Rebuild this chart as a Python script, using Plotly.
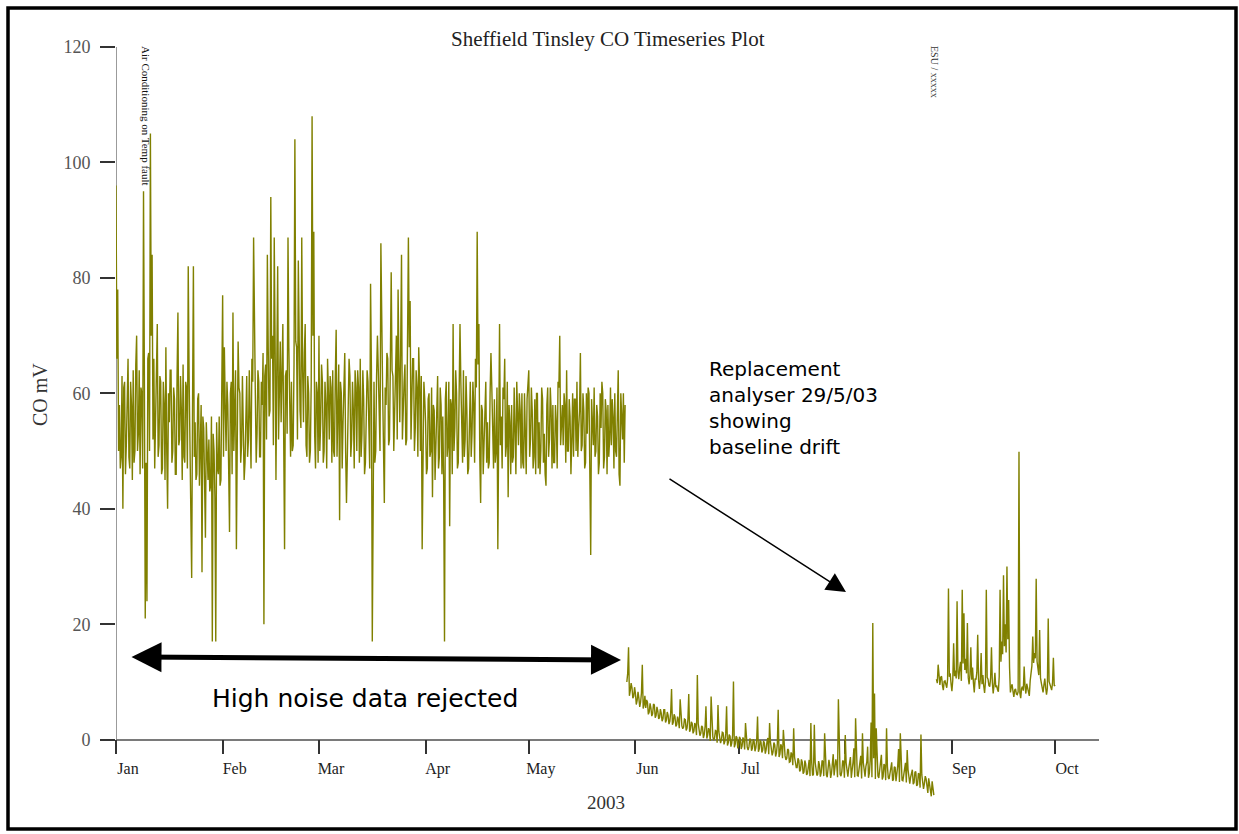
import pandas as pd
import plotly.graph_objects as go

# ---------------------------------------------------------------------------
# Sheffield Tinsley CO analyser output (mV), 6-hourly readings
# (00:00, 06:00, 12:00, 18:00), one row per two days
# ---------------------------------------------------------------------------

# Original analyser, 1 Jan 2003 00:00 onwards
co_jan = [96, 66, 78, 50, 58, 47, 49, 63,
          40, 61, 62, 46, 51, 64, 66, 49,
          47, 62, 58, 45, 64, 48, 50, 65,
          70, 50, 53, 64, 46, 61, 60, 47,
          95, 63, 21, 48, 24, 66, 67, 50,
          105, 70, 84, 52, 66, 47, 55, 65,
          72, 49, 51, 63, 62, 46, 47, 62,
          58, 45, 68, 50, 40, 60, 55, 64,
          64, 48, 50, 61, 59, 46, 46, 63,
          74, 51, 52, 63, 57, 45, 65, 49,
          48, 62, 61, 47, 82, 63, 52, 45,
          28, 58, 82, 49, 55, 45, 46, 59,
          60, 44, 50, 58, 29, 56, 54, 44,
          35, 55, 49, 45, 52, 43, 44, 56,
          17, 53, 50, 42, 17, 55, 47, 46,
          56, 44, 45, 58]
co_feb = [77, 49, 68, 58, 50, 62, 58, 47,
          36, 60, 62, 46, 74, 50, 55, 64,
          33, 47, 69, 61, 60, 48, 51, 63,
          56, 45, 48, 60, 63, 49, 52, 64,
          58, 47, 66, 62, 87, 65, 60, 48,
          53, 64, 62, 49, 49, 62, 58, 67,
          20, 63, 65, 52, 84, 68, 56, 57,
          94, 66, 70, 51, 87, 69, 45, 65,
          82, 52, 60, 69, 55, 66, 72, 52,
          33, 63, 64, 53, 87, 68, 58, 49,
          62, 50, 51, 65, 104, 69, 68, 52,
          83, 66, 57, 54, 87, 64, 55, 67,
          72, 51, 49, 63, 60, 48, 50, 62,
          108, 70, 88, 53, 47, 62, 60, 48]
co_mar = [70, 50, 55, 65, 62, 48, 50, 62,
          58, 47, 66, 60, 52, 63, 61, 48,
          64, 50, 49, 63, 71, 49, 56, 65,
          38, 62, 60, 47, 55, 65, 67, 50,
          41, 49, 58, 66, 63, 49, 52, 62,
          57, 47, 64, 61, 50, 64, 61, 48,
          66, 49, 53, 64, 59, 46, 48, 61,
          64, 62, 55, 47, 79, 64, 17, 49,
          62, 48, 50, 63, 70, 64, 56, 50,
          86, 66, 61, 51, 41, 61, 58, 67,
          66, 51, 52, 65, 81, 64, 63, 50,
          57, 67, 70, 52, 78, 65, 55, 68,
          84, 52, 60, 62, 65, 51, 52, 66,
          87, 68, 76, 52, 58, 66, 66, 50,
          54, 64, 61, 49, 68, 62, 50, 63,
          33, 49, 62, 59]
co_apr = [55, 46, 47, 59, 60, 49, 50, 61,
          42, 58, 57, 45, 52, 60, 63, 47,
          49, 61, 58, 46, 56, 45, 17, 59,
          62, 49, 51, 62, 37, 59, 58, 46,
          72, 50, 54, 64, 60, 47, 48, 60,
          72, 62, 56, 48, 64, 49, 52, 63,
          57, 46, 47, 59, 62, 49, 53, 62,
          58, 48, 66, 61, 88, 65, 72, 49,
          41, 58, 57, 46, 52, 61, 62, 48,
          55, 47, 48, 60, 67, 61, 54, 47,
          59, 48, 50, 61, 33, 60, 72, 51,
          56, 47, 61, 59, 66, 49, 51, 62,
          42, 58, 55, 46, 58, 48, 49, 61,
          55, 46, 62, 58, 51, 60, 57, 47,
          60, 48, 47, 60, 54, 46, 59, 61]
co_may = [64, 49, 52, 61, 57, 47, 49, 59,
          46, 60, 60, 47, 55, 46, 50, 61,
          59, 48, 53, 46, 44, 58, 61, 49,
          52, 61, 57, 47, 58, 48, 48, 58,
          55, 47, 62, 61, 70, 51, 54, 58,
          51, 60, 58, 48, 64, 50, 50, 59,
          56, 46, 52, 60, 49, 59, 59, 50,
          62, 49, 54, 57, 67, 50, 51, 60,
          57, 47, 48, 60, 53, 61, 60, 46,
          32, 59, 55, 51, 61, 49, 50, 58,
          56, 46, 48, 60, 54, 62, 60, 47,
          49, 59, 57, 46, 58, 49, 52, 61,
          51, 59, 56, 47, 60, 50, 49, 58,
          64, 46, 44, 60, 56, 52, 60, 48,
          58]

# Replacement analyser, 29 May 2003 12:00 onwards
new_may = [10, 11.5,
           16, 7.6, 8.5, 9.8, 9, 7.2, 7.5, 9.1]
new_jun = [8, 6.1, 6.8, 8.3, 7.2, 5.7, 6.5, 8.1,
           13, 5.4, 6, 7.6, 5.5, 6.9, 6.5, 4.4,
           4.8, 6.3, 5.5, 4.1, 4.5, 6.2, 6, 3.8,
           4.2, 5.7, 5, 3.6, 3.8, 5.3, 4.6, 3.2,
           3.6, 5.2, 5.2, 3, 3.4, 4.8, 4.2, 2.7,
           3.2, 4.7, 8.8, 2.6, 3, 4.4, 4, 2.3,
           2.6, 4, 3.4, 2, 7, 3.7, 2.4, 1.9,
           2.2, 3.6, 3.5, 1.6, 2, 3.5, 7.9, 1.4,
           1.8, 3.1, 2.8, 1.1, 1.5, 2.9, 2.5, 0.8,
           11.2, 2.8, 1.3, 0.7, 1.1, 2.4, 2.2, 0.3,
           0.9, 2.3, 5.8, 0.2, 0.8, 2, 1.6, -0.2,
           7.5, 1.8, 0.5, -0.1, 0.3, 1.6, 1.5, -0.5,
           6, 1.4, 0.1, -0.6, 0, 1.3, 1.2, -0.8,
           -0.3, 1.1, 5.8, -1, -0.5, 0.9, 0.6, -1.2,
           -0.6, 0.8, 10.1, -1.3, -0.8, 0.6, 0.4, -1.5]
new_jul = [-1, 0.5, 0.2, -1.6, -1.1, 0.4, 0, -1.7,
           2.9, 0.3, -1.3, -1.8, -1.2, 0.2, 0, -1.9,
           -1.5, 0.1, -0.3, -2, -1.4, 0, 4, -2.1,
           -1.6, -0.1, -0.4, -2.2, -1.8, -0.2, -0.6, -2.4,
           -1.7, -0.3, 0.3, -2.5, 2.9, -0.4, -2, -2.7,
           -2.1, -0.5, -0.9, -2.9, -2.3, -0.7, 5.2, -3,
           -2.5, -0.8, -1.2, -3.2, 1.7, -1.3, -2.8, -3.5,
           -3.2, -1.6, -1.8, -3.9, -3.8, -2.2, -2.6, -4.4,
           2, -3, -4.4, -4.8, -4.8, -3.2, -3.6, -5.5,
           -5.2, -3.4, -3.9, -5.9, -5.6, -3.6, -4.2, -6.1,
           -5.9, -3.8, -3.5, -6.3, 2.9, -4, -6.2, -6,
           2.6, -3.9, -5.4, -6.2, -6, -3.7, -4.4, -6.4,
           -5.7, -3.6, -3.8, -6.3, 1.1, -3.9, -6.1, -6.5,
           -5.4, -3.5, -4.5, -6.6, -5.8, -3.8, -2.5, -6.2,
           -5.2, -3.4, -4.1, -6.5, 7, -3.9, -6, -6.3,
           -5.5, -3.6, -3.8, -6.6]
new_aug = [0.8, -4, -6.1, -6.4, -5, -3.7, -3, -6.6,
           -5.6, -3.9, -1.5, -6.5, 3.7, -4.1, -6.2, -6.3,
           -5.3, -3.8, -2.8, -6.7, 1.1, -4, -5.9, -6.4,
           -4.6, -3.9, -1.2, -6.6, -5.8, -3.6, 3, -6.5,
           20.2, -3.2, 8, -6.8, 2, -4.1, -6.3, -6.6,
           -5.2, -4.3, -2.6, -6.9, -6.4, -4.2, -4.5, -7,
           2, -4.6, -6.6, -6.8, -5.7, -4.4, -3.9, -7.1,
           -6.9, -4.7, -4.8, -7.2, -6.2, -4.5, -1.6, -7.3,
           1.1, -4.9, -7, -7.1, -6, -5.1, -4, -7.4,
           -1.8, -5.2, -7.3, -7.6, -6.5, -5.4, -5.2, -7.7,
           -7.4, -5.6, -5.5, -8, -7.8, -5.8, -6, -8.3,
           0.9, -6.1, -8.2, -8.5, -7.6, -6.3, -6.8, -8.8,
           -9.2, -6.7, -7.9, -9.2, -9.8, -7.2, -8.5, -9.6]

# Analyser back on line, 27 Aug 2003 12:00 onwards
late_aug = [10.5, 9.8,
            13, 10.2, 9.5, 10.8, 11, 9.4, 8.6, 10.1,
            10.2, 9.6, 9, 10.5, 26.2, 10.9, 11.5, 9.7]
late_sep = [8.4, 10.3, 16.7, 11, 12, 10.6, 24, 11.8,
            10.5, 12.4, 13.5, 10.2, 26, 13.2, 21.9, 12.1,
            14, 11.5, 20.2, 10.8, 9.6, 11.3, 16, 10.4,
            12.5, 9.9, 8.2, 10.6, 10.4, 11.7, 18.2, 10.3,
            8.8, 10.5, 15, 9.6, 11.2, 9.3, 8.1, 10,
            26, 10.8, 10.5, 9.4, 9.2, 10.7, 16, 9.9,
            8, 9.5, 11.6, 9.1, 9.4, 8.7, 8.3, 10.9,
            26, 13.5, 17, 14.8, 28.5, 16.2, 20, 15.1,
            30, 17.4, 24.2, 12.6, 8.2, 9.1, 9.6, 8.4,
            7.4, 8.6, 8.8, 7.9, 7.8, 8.3, 49.9, 8.1,
            7.2, 8.9, 9.2, 8.5, 12.7, 9.3, 8, 9.7,
            9.1, 8.4, 7.6, 10.2, 11.5, 12.8, 17.9, 13.3,
            15, 14.1, 27.9, 13.6, 12.4, 11.2, 19, 10.7,
            9.8, 9.2, 8.2, 9.5, 10.6, 9, 7.8, 8.9,
            21, 10.1, 9.4, 8.7, 8.6, 9.8, 14.2, 9.3,
            9.5]

segments = [
    ("2003-01-01 00:00", co_jan + co_feb + co_mar + co_apr + co_may),
    ("2003-05-29 12:00", new_may + new_jun + new_jul + new_aug),
    ("2003-08-27 12:00", late_aug + late_sep),
]

# month ticks; the August label sits under the drifting trace and is left blank
month_starts = ["2003-01-01", "2003-02-01", "2003-03-01", "2003-04-01",
                "2003-05-01", "2003-06-01", "2003-07-01", "2003-08-01",
                "2003-09-01", "2003-10-01"]
month_labels = ["Jan", "Feb", "Mar", "Apr", "May", "Jun", "Jul", "",
                "Sep", "Oct"]
y_ticks = [0, 20, 40, 60, 80, 100, 120]
y_range = [-12, 120]
x_range = ["2003-01-01 00:00", "2003-10-13 18:15"]

# ---------------------------------------------------------------------------
# Page geometry
# ---------------------------------------------------------------------------
FIG_W, FIG_H = 1239, 834
M_L, M_R, M_T, M_B = 116, 140, 47, 25
PW = FIG_W - M_L - M_R
PH = FIG_H - M_T - M_B


def px(xp):
    """Page pixel column -> paper fraction."""
    return (xp - M_L) / PW


def py(yp):
    """Page pixel row -> paper fraction."""
    return (FIG_H - M_B - yp) / PH


SERIF = "Liberation Serif, Times New Roman, serif"
SANS = "DejaVu Sans, Verdana, sans-serif"
OLIVE = "#808000"

fig = go.Figure()
for start, vals in segments:
    times = pd.date_range(start, periods=len(vals), freq="6h")
    fig.add_trace(go.Scatter(
        x=times, y=vals, mode="lines",
        line=dict(color=OLIVE, width=1.4),
        showlegend=False, hoverinfo="skip",
    ))

fig.update_layout(
    width=FIG_W, height=FIG_H,
    margin=dict(l=M_L, r=M_R, t=M_T, b=M_B),
    paper_bgcolor="white", plot_bgcolor="white",
    showlegend=False,
    xaxis=dict(
        type="date", range=x_range,
        anchor="free",
        position=(0 - y_range[0]) / (y_range[1] - y_range[0]),
        showline=True, linecolor="#7a7a7a", linewidth=1.5,
        ticks="outside", ticklen=14, tickwidth=1.5, tickcolor="#333",
        tickvals=month_starts, ticktext=month_labels,
        ticklabelshift=12,
        tickfont=dict(family=SERIF, size=16, color="#222"),
        showgrid=False, zeroline=False, layer="below traces",
    ),
    yaxis=dict(
        range=y_range, tickvals=y_ticks,
        ticks="outside", ticklen=15, tickwidth=1.5, tickcolor="#333",
        tickfont=dict(family=SERIF, size=18, color="#555"),
        ticklabelstandoff=6,
        showline=False, showgrid=False, zeroline=False,
    ),
    shapes=[
        # vertical axis line from 0 to 120
        dict(type="line", xref="x", yref="y",
             x0=month_starts[0], x1=month_starts[0], y0=0, y1=y_ticks[-1],
             line=dict(color="#7a7a7a", width=1.5), layer="below"),
        # page frame
        dict(type="rect", xref="paper", yref="paper",
             x0=px(8), x1=px(1236), y0=py(829), y1=py(8),
             line=dict(color="black", width=3.5)),
    ],
)

annotations = [
    dict(text="Sheffield Tinsley CO Timeseries Plot",
         x=px(608), y=py(39), font=dict(family=SERIF, size=21, color="#222")),
    dict(text="CO mV", x=px(40), y=py(395), textangle=-90,
         font=dict(family=SERIF, size=20, color="#333")),
    dict(text="2003", x=px(606), y=py(802),
         font=dict(family=SERIF, size=19, color="#333")),
    dict(text="Air Conditioning on Temp fault", x=px(146), y=py(116),
         textangle=90, font=dict(family=SERIF, size=11, color="#111")),
    dict(text="ESU / xxxxx", x=px(934), y=py(72), textangle=90,
         font=dict(family=SERIF, size=10, color="#333")),
    dict(text="Replacement<br>analyser 29/5/03<br>showing<br>baseline drift",
         x=px(707), y=py(408), xanchor="left", align="left",
         font=dict(family=SANS, size=20, color="black")),
    dict(text="High noise data rejected", x=px(365), y=py(698),
         font=dict(family=SANS, size=25, color="black")),
    # arrow pointing at the drifting baseline
    dict(text="", x=px(846), y=py(592), ax=668 - 846, ay=478 - 592,
         showarrow=True, arrowhead=2, arrowsize=2.6, arrowwidth=1.5,
         arrowcolor="black"),
    # double-headed arrow spanning the rejected period
    dict(text="", x=px(621), y=py(660), ax=130 - 621, ay=657 - 660,
         showarrow=True, arrowside="end+start",
         arrowhead=2, startarrowhead=2, arrowsize=1.2, startarrowsize=1.2,
         arrowwidth=5, arrowcolor="black"),
]

for a in annotations:
    a.setdefault("xref", "paper")
    a.setdefault("yref", "paper")
    a.setdefault("xanchor", "center")
    a.setdefault("yanchor", "middle")
    a.setdefault("showarrow", False)
    fig.add_annotation(**a)

fig.write_html("out.html")
